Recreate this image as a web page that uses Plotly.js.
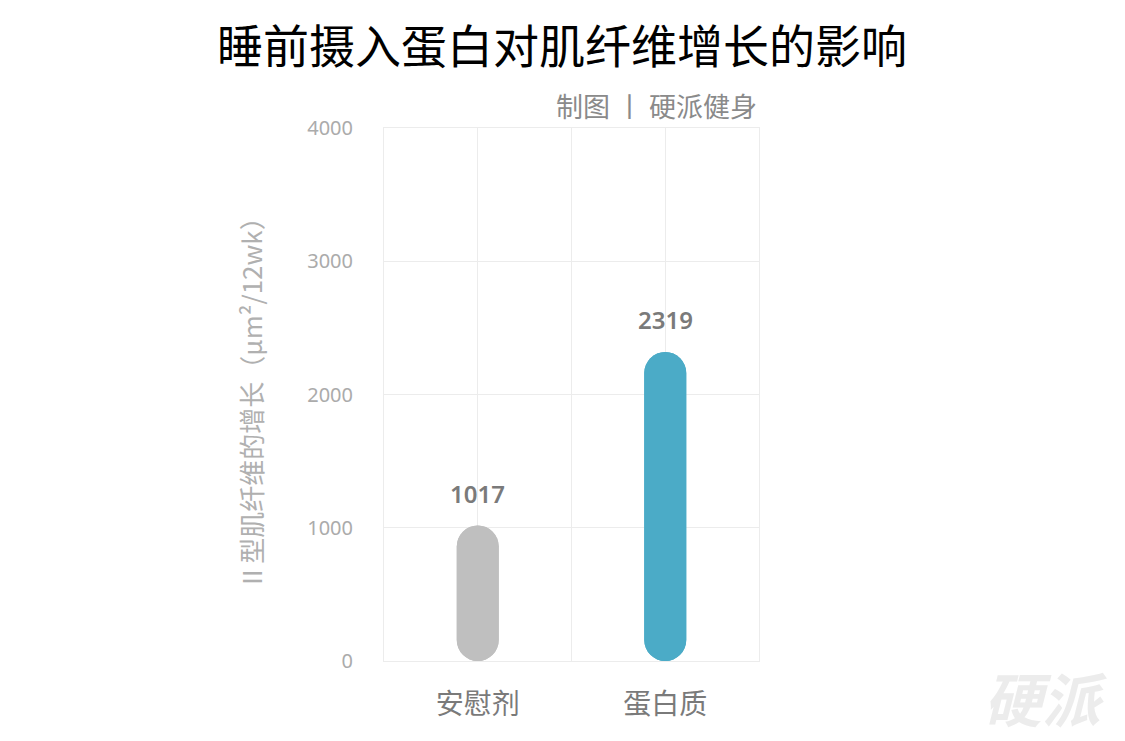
<!DOCTYPE html>
<html>
<head>
<meta charset="utf-8">
<script src="https://cdn.plot.ly/plotly-3.0.1.min.js"></script>
<style>html,body{margin:0;padding:0;background:#fff;}#chart{width:1125px;height:741px;}</style>
</head>
<body>
<div id="chart"></div>
<script>
var categories = ['安慰剂', '蛋白质'];
var values = [1017, 2319];
var colors = ['#bfbfbf', '#4babc7'];
var yTicks = [0, 1000, 2000, 3000, 4000];

var xs = categories.map(function (c, i) { return i; });
var FONT = '"Noto Sans", "Noto Sans CJK SC", sans-serif';
var CJK = '"Noto Sans CJK SC", sans-serif';

var topHalf = {
  type: 'bar', x: xs, y: values, base: 0,
  width: 0.224,
  marker: {color: colors, cornerradius: 21, line: {width: 0}},
  hoverinfo: 'skip', showlegend: false
};
var bottomHalf = {
  type: 'bar', x: xs, y: values.map(function (v) { return -v; }), base: values,
  width: 0.224,
  marker: {color: colors, cornerradius: 21, line: {width: 0}},
  hoverinfo: 'skip', showlegend: false
};

var annotations = values.map(function (v, i) {
  return {
    x: i, y: v, xref: 'x', yref: 'y', text: String(v), showarrow: false,
    yshift: 32, font: {family: FONT, size: 24, color: '#7a7a7a', weight: 600}
  };
});
annotations.push({
  xref: 'paper', yref: 'paper', x: 1, y: 1, xanchor: 'right', yanchor: 'bottom', yshift: 1,
  text: '制图 丨 硬派健身', showarrow: false,
  font: {family: CJK, size: 27, color: '#8a8a8a'}
});
annotations.push({
  xref: 'paper', yref: 'paper', x: 1.763, y: -0.0675, xanchor: 'center', yanchor: 'middle',
  text: '硬派', showarrow: false,
  font: {family: CJK, size: 58, color: '#ececec', style: 'italic', weight: 700}
});

var layout = {
  width: 1125, height: 741,
  margin: {l: 384, r: 366, t: 128, b: 80},
  paper_bgcolor: '#ffffff', plot_bgcolor: '#ffffff',
  barmode: 'overlay',
  title: {
    text: '睡前摄入蛋白对肌纤维增长的影响',
    x: 0.4996, xref: 'container', xanchor: 'center', y: 0.937, yanchor: 'middle',
    font: {family: CJK, size: 46, color: '#000000'}
  },
  xaxis: {
    range: [-0.5, 1.5],
    tickmode: 'array',
    tickvals: [-0.5, 0, 0.5, 1, 1.5],
    ticktext: ['', categories[0], '', categories[1], ''],
    showgrid: true, gridcolor: '#ececec', gridwidth: 1,
    zeroline: false, showline: true, mirror: true, linecolor: '#ececec', linewidth: 1,
    ticks: '',
    tickfont: {family: CJK, size: 28, color: '#7a7a7a'},
    ticklabelstandoff: 18,
    fixedrange: true
  },
  yaxis: {
    range: [0, 4000],
    tickmode: 'array', tickvals: yTicks, ticktext: yTicks.map(String),
    showgrid: true, gridcolor: '#ececec', gridwidth: 1,
    zeroline: false, showline: true, mirror: true, linecolor: '#ececec', linewidth: 1,
    ticks: '',
    ticklabelstandoff: 26,
    tickfont: {family: FONT, size: 20, color: '#ababab'},
    title: {
      text: 'II 型肌纤维的增长（μm²/12wk）',
      standoff: 37,
      font: {family: CJK, size: 26, color: '#b0b0b0'}
    },
    fixedrange: true
  },
  annotations: annotations
};

Plotly.newPlot('chart', [topHalf, bottomHalf], layout, {displayModeBar: false, staticPlot: true});
</script>
</body>
</html>
